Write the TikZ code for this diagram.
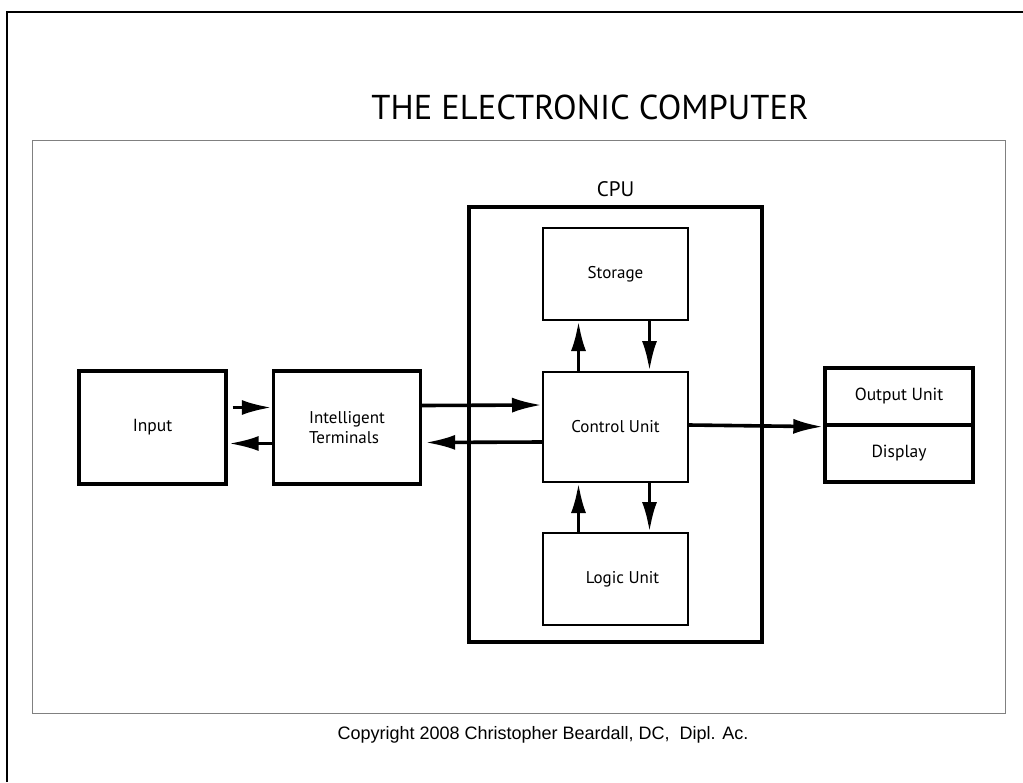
\documentclass[tikz,border=0pt]{standalone}
\usepackage{fontspec}
\setmainfont{PT Sans}
\newfontfamily\copyfont{Liberation Sans}
\usetikzlibrary{arrows.meta}

\tikzset{
  unit/.style={draw,line width=2pt,minimum width=145pt,inner sep=0pt,
    font=\fontsize{17}{19}\selectfont},
  heavy/.style={draw,line width=3.4pt,minimum width=147pt,minimum height=113pt,
    inner sep=0pt,font=\fontsize{17.5}{19}\selectfont},
  flow/.style={line width=3.6pt,-{Latex[length=30pt,width=15pt]}}
}

\begin{document}
\begin{tikzpicture}[x=1pt,y=-1pt]
    \useasboundingbox (0,0) rectangle (1023,782);
    %\draw[help lines] (0,0) grid[step=50] (1023,782);
	\draw[line width=2.8pt] (7,782)--(7,12)--(1023,12);
	\draw[line width=0.9pt,black!50] (32,140) rectangle (1005,713);
	\node[font=\fontsize{34.5}{36}\selectfont,anchor=base] (title) at (590,119) {THE ELECTRONIC COMPUTER};
	% cpu
	\node[draw,line width=4pt,minimum width=293pt,minimum height=435pt] (cpu) at (615.5,424.5) {};
	\node[font=\fontsize{21}{23}\selectfont,above=5pt] (cpulbl) at (cpu.north) {CPU};
	\node[unit,minimum height=92pt] (store) at (615.5,274) {Storage};
	\node[unit,minimum height=110pt] (ctrl) at (615.5,427) {Control Unit};
	\node[unit,minimum height=92pt] (logic) at (615.5,579) {\hspace*{14pt}Logic Unit};
	% left side
	\node[heavy] (input) at (152.5,427.5) {Input};
	\node[heavy,align=left,font=\fontsize{17}{20}\selectfont] (term) at (347,427.5) {Intelligent\\Terminals};
	% output
	\node[heavy,minimum width=148pt,minimum height=57pt] (out) at (899,396.5) {Output Unit};
	\node[heavy,minimum width=148pt,minimum height=57pt] (disp) at (899,453.5) {Display};
	% arrows
	\draw[flow] ([xshift=5pt,yshift=20pt]input.east)--([yshift=20pt]term.west);
	\draw[flow] ([yshift=-16pt]term.west)--([xshift=1pt,yshift=-16pt]input.east);
	\draw[flow] ([yshift=22pt]term.east)--([yshift=22pt]ctrl.west);
	\draw[flow] ([yshift=-15pt]ctrl.west)--([xshift=3pt,yshift=-15pt]term.east);
	\draw[flow] ([yshift=2pt]ctrl.east)--(out.south west);
	\draw[flow] ([xshift=-37pt]ctrl.north)--([xshift=-37pt]store.south);
	\draw[flow] ([xshift=34pt]store.south)--([xshift=34pt]ctrl.north);
	\draw[flow] ([xshift=-37pt]logic.north)--([xshift=-37pt]ctrl.south);
	\draw[flow] ([xshift=34pt]ctrl.south)--([xshift=34pt]logic.north);
	\node[font=\copyfont\fontsize{18}{20}\selectfont] (copy) at (543,735) {Copyright 2008 Christopher Beardall, DC,\ \ Dipl. Ac.};
\end{tikzpicture}
\end{document}
